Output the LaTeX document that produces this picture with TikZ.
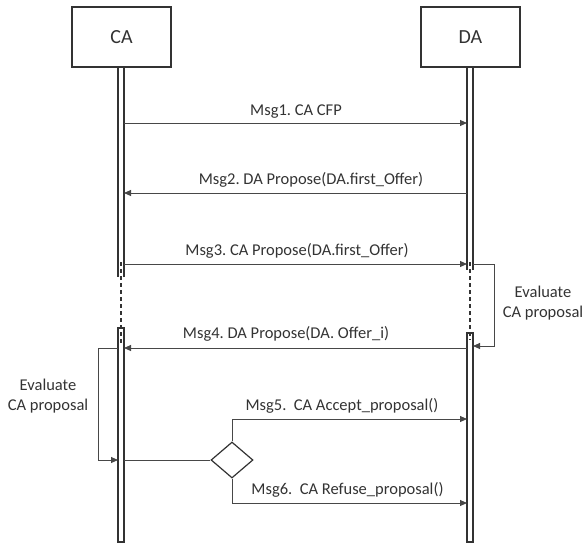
\documentclass[tikz,border=0pt]{standalone}
\usepackage{fontspec}
\setmainfont{Carlito}
\frenchspacing
\usetikzlibrary{shapes.geometric,arrows.meta}
\definecolor{ink}{HTML}{333333}
\definecolor{wire}{HTML}{474747}
\tikzset{
  agent/.style={draw=ink, line width=1.5pt, fill=white, minimum width=99pt, minimum height=60pt,
    inner sep=0pt, font=\fontsize{20}{24}\selectfont, text=ink},
  lifebar/.style={draw=ink, line width=1.2pt, fill=white},
  msg/.style={draw=wire, line width=0.9pt, -{Triangle[length=7pt,width=6pt]}},
  plain/.style={draw=wire, line width=0.9pt},
  brk/.style={draw=ink, line width=1.5pt, dash pattern=on 4pt off 3pt},
  lbl/.style={font=\fontsize{16.5}{20.5}\selectfont, text=ink, inner sep=0pt},
  choice/.style={diamond, draw=ink, line width=1.2pt, fill=white, minimum width=42pt,
    minimum height=36pt, inner sep=0pt, aspect=1.17},
}
\begin{document}
\begin{tikzpicture}[x=1pt,y=-1pt]
\useasboundingbox (0,0) rectangle (588,543);

% agents
\node[agent] (ca) at (121.5,37) {CA};
\node[agent] (da) at (470.5,37) {DA};

% activation bars
\draw[lifebar] (118,67) -- (118,277) (124,277) -- (124,67);
\draw[lifebar] (118,328) rectangle (124,542);
\draw[lifebar] (467,67) -- (467,270) (473,270) -- (473,67);
\draw[lifebar] (467,333) rectangle (473,542);
\draw[brk] (121,262) -- (121,345);
\draw[brk] (470,262) -- (470,340);

% message end points on the bars
\coordinate (c1) at (124,123);   \coordinate (d1) at (467,123);
\coordinate (c2) at (124,193);   \coordinate (d2) at (467,193);
\coordinate (c3) at (124,264);   \coordinate (d3) at (467,264);
\coordinate (c4) at (124,348);   \coordinate (d4) at (467,348);
\coordinate (d5) at (467,419);   \coordinate (d6) at (467,503);
\coordinate (daloopA) at (473,264); \coordinate (daloopB) at (494,264);
\coordinate (daloopC) at (494,346); \coordinate (daloopD) at (473,346);
\coordinate (caloopA) at (118,348); \coordinate (caloopB) at (98,348);
\coordinate (caloopC) at (98,460);  \coordinate (caloopD) at (118,460);
\coordinate (cadec) at (124,460);

% messages
\draw[msg] (c1) -- (d1);
\node[lbl] (m1) at (296,112) {Msg1. CA CFP};
\draw[msg] (d2) -- (c2);
\node[lbl] (m2) at (311,180) {Msg2. DA Propose(DA.first\_Offer)};
\draw[msg] (c3) -- (d3);
\node[lbl] (m3) at (297,251) {Msg3. CA Propose(DA.first\_Offer)};
\draw[msg] (d4) -- (c4);
\node[lbl] (m4) at (286,334) {Msg4. DA Propose(DA. Offer\_i)};

% self evaluation loops
\draw[msg] (daloopA) -- (daloopB) -- (daloopC) -- (daloopD);
\node[lbl, align=center] (evda) at (543,303) {Evaluate\\CA proposal};
\draw[msg] (caloopA) -- (caloopB) -- (caloopC) -- (caloopD);
\node[lbl, align=center] (evca) at (48,396) {Evaluate\\CA proposal};

% decision
\node[choice] (dec) at (232,460) {};
\draw[plain] (cadec) -- (dec.west);
\draw[msg] (dec.north) |- (d5);
\node[lbl] (m5) at (342,406) {Msg5.\ \ CA Accept\_proposal()};
\draw[msg] (dec.south) |- (d6);
\node[lbl] (m6) at (347.5,490) {Msg6.\ \ CA Refuse\_proposal()};
\end{tikzpicture}
\end{document}
